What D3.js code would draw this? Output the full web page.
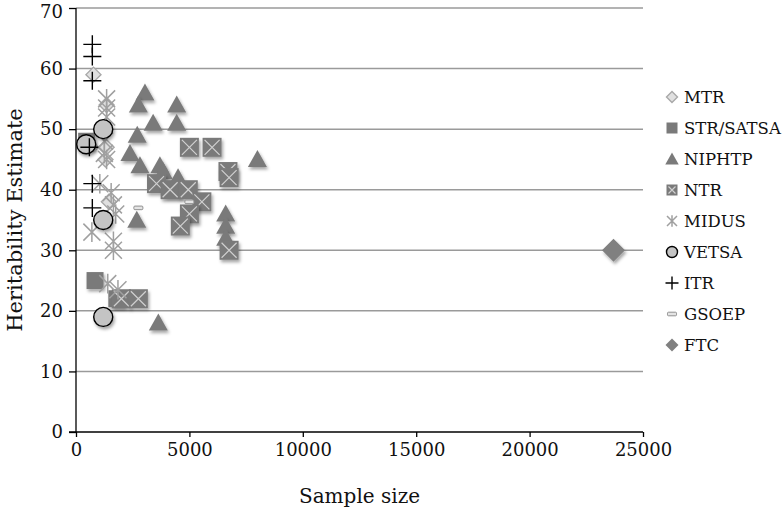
<!DOCTYPE html>
<html><head><meta charset="utf-8">
<script src="https://cdn.jsdelivr.net/npm/d3@7"></script>
<style>body{margin:0;background:#fff}svg{display:block}text{font-family:"DejaVu Serif",serif;fill:#111}</style>
</head><body><svg id="c" width="783" height="510"></svg>
<script>
const yTicks=[0,10,20,30,40,50,60,70];
const xTicks=[0,5000,10000,15000,20000,25000];
const seriesNames=["MTR","STR/SATSA","NIPHTP","NTR","MIDUS","VETSA","ITR","GSOEP","FTC"];
const mtrX=[770,1350,1350,1300,1450];
const mtrY=[59,54,47,45,38];
const strX=[470,840,1800];
const strY=[48,25,22];
const niphtpX=[3040,2750,4440,3400,4440,2700,2380,2820,3700,8000,3850,4500,4300,6600,6600,6600,2680,3630];
const niphtpY=[56,54,54,51,51,49,46,44,44,45,43,42,40,36,34,32,35,18];
const ntrX=[5000,6000,6700,6750,3550,4150,4950,5550,5000,4600,6750,2000,2750];
const ntrY=[47,47,43,42,41,40,40,38,36,34,30,22,22];
const midusX=[1350,1350,1350,1250,1250,1350,1050,1550,1650,1750,700,1650,1650,1400,1850];
const midusY=[55,53.5,52,48,46,45,41,39.5,37.5,36,33,31.5,30,24.5,23.5];
const vetsaX=[450,1200,1200,1200];
const vetsaY=[47.5,50,35,19];
const itrX=[720,720,720,590,720,720];
const itrY=[64,62,58,47,41,37];
const gsoepX=[2750,5000];
const gsoepY=[37,38];
const ftcX=[23700];
const ftcY=[30];

const svg=d3.select("#c");
const defs=svg.append("defs");
const f=defs.append("filter").attr("id","sh").attr("x","-50%").attr("y","-50%").attr("width","200%").attr("height","200%");
f.append("feDropShadow").attr("dx",1.5).attr("dy",2.5).attr("stdDeviation",1.8).attr("flood-color","#000").attr("flood-opacity",0.35);

const x=d3.scaleLinear().domain([0,25000]).range([76,643]);
const y=d3.scaleLinear().domain([0,70]).range([432,8]);

// gridlines
svg.append("g").selectAll("line").data(yTicks.filter(d=>d>0)).join("line")
 .attr("x1",x(0)).attr("x2",x(25000)).attr("y1",d=>y(d)).attr("y2",d=>y(d))
 .attr("stroke","#9a9a9a").attr("stroke-width",1.5);

// axes
const ya=svg.append("g").attr("transform",`translate(${x(0)},0)`)
 .call(d3.axisLeft(y).tickValues(yTicks).tickSize(7).tickPadding(6).tickFormat(d3.format("d")));
const xa=svg.append("g").attr("transform",`translate(0,${y(0)})`)
 .call(d3.axisBottom(x).tickValues(xTicks).tickSize(5).tickPadding(6).tickFormat(d3.format("d")));
[ya,xa].forEach(a=>{a.selectAll("path,line").attr("stroke","#000").attr("stroke-width",1.3);
 a.selectAll("text").style("font-family","DejaVu Serif").style("font-size","18px").attr("fill","#111");});
ya.select(".domain").attr("d",`M0,${y(70)}V${y(0)+0.5}`);
xa.select(".domain").attr("d",`M${x(0)-7},0H${x(25000)}`);
ya.selectAll(".tick text").filter(d=>d===70).attr("dy","0.5em");

svg.append("text").attr("transform",`translate(22,${(y(0)+y(70))/2}) rotate(-90)`).attr("text-anchor","middle")
 .style("font-size","21px").text("Heritability Estimate");
svg.append("text").attr("x",(x(0)+x(25000))/2).attr("y",503).attr("text-anchor","middle")
 .style("font-size","20px").text("Sample size");

// marker drawers
const dark="#7a7a7a";
function tri(g,s){g.append("path").attr("d",`M0,${-s*0.55}L${s*0.56},${s*0.45}L${-s*0.56},${s*0.45}Z`).attr("fill",dark).attr("filter","url(#sh)");}
function sq(g,s){g.append("rect").attr("x",-s/2).attr("y",-s/2).attr("width",s).attr("height",s).attr("fill",dark).attr("filter","url(#sh)");}
function ntr(g,s){sq(g,s);const h=s/2-2;g.append("path").attr("d",`M${-h},${-h}L${h},${h}M${h},${-h}L${-h},${h}`).attr("stroke","#d0d0d0").attr("stroke-width",1.2);}
function ast(g,s){const h=s/2;g.append("path").attr("d",`M${-h},${-h}L${h},${h}M${h},${-h}L${-h},${h}M0,${-h*1.15}V${h*1.15}`).attr("stroke","#a0a0a0").attr("stroke-width",1.5).attr("fill","none");}
function circ(g,s){g.append("circle").attr("r",s/2).attr("fill","#c4c4c4").attr("stroke","#000").attr("stroke-width",1.4).attr("filter","url(#sh)");}
function plus(g,s){const h=s/2;g.append("path").attr("d",`M${-h},0H${h}M0,${-h}V${h}`).attr("stroke","#000").attr("stroke-width",1.4);}
function dia(g,s){const h=s/2;g.append("path").attr("d",`M0,${-h}L${h},0L0,${h}L${-h},0Z`).attr("fill","#e0e0e0").attr("stroke","#a8a8a8").attr("stroke-width",1.4);}
function gso(g,s){g.append("rect").attr("x",-s/2).attr("y",-s/5).attr("width",s).attr("height",s*0.4).attr("rx",1).attr("fill","#e4e4e4").attr("stroke","#909090").attr("stroke-width",1);}
function ftc(g,s){const h=s/2;g.append("path").attr("d",`M0,${-h}L${h},0L0,${h}L${-h},0Z`).attr("fill","#808080").attr("filter","url(#sh)");}

function plot(xs,ys,fn,s){
 const g=svg.append("g");
 g.selectAll("g").data(xs.map((v,i)=>[v,ys[i]])).join("g")
  .attr("transform",d=>`translate(${x(d[0])},${y(d[1])})`).each(function(){fn(d3.select(this),s);});
}
plot(strX,strY,sq,17);
plot(niphtpX,niphtpY,tri,17);
plot(ntrX,ntrY,ntr,19);
plot(gsoepX,gsoepY,gso,9);
plot(mtrX,mtrY,dia,15);
plot(midusX,midusY,ast,17);
plot(vetsaX,vetsaY,circ,19);
plot(itrX,itrY,plus,18);
plot(ftcX,ftcY,ftc,23);

// legend
const lfn=[dia,sq,tri,ntr,ast,circ,plus,gso,ftc];
const lsz=[11,11,12,11,10,11,13,9,13];
const lg=svg.append("g");
seriesNames.forEach((n,i)=>{
 const yy=97+i*31;
 const g=lg.append("g").attr("transform",`translate(672,${yy})`);
 lfn[i](g,lsz[i]);
 g.selectAll("[filter]").attr("filter",null);
 lg.append("text").attr("x",684).attr("y",yy).attr("dy","0.36em").style("font-size","16.5px").text(n);
});
</script></body></html>
